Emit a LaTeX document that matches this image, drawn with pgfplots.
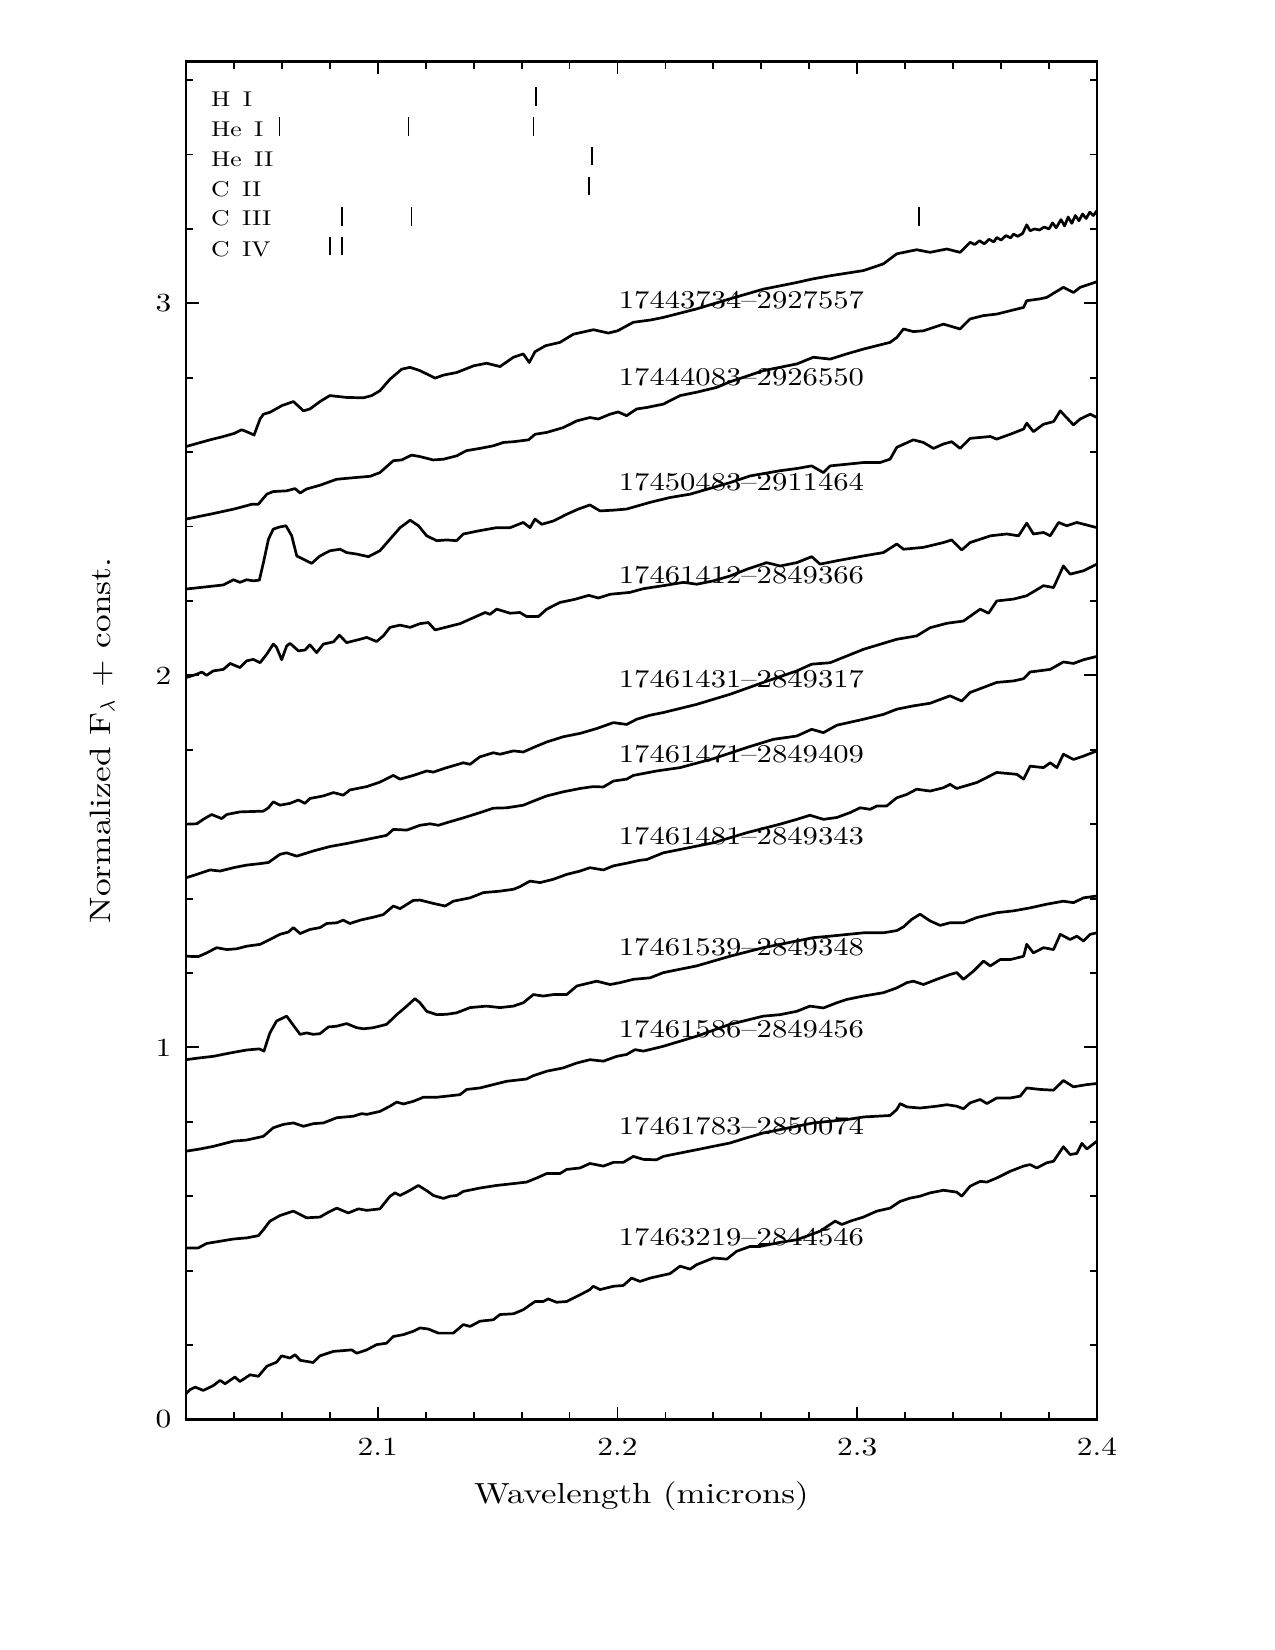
\documentclass[border=0pt]{standalone}
\usepackage{pgfplots}
\pgfplotsset{compat=1.18}
\usepackage{fontspec}
\setmainfont{lmroman10-regular.otf}[FakeStretch=1.2]
\pgfplotsset{spec/.style={black, solid, mark=none, line width=1.3pt, line join=round}}

\begin{document}
\begin{tikzpicture}
\path[use as bounding box] (0,0) rectangle (8.5in,11in);
\begin{axis}[
  at={(1.24in,1.537in)}, anchor=south west,
  scale only axis, width=6.073in, height=9.053in,
  xmin=2.02, xmax=2.4, ymin=0, ymax=3.65,
  enlargelimits=false,
  xtick={2.1,2.2,2.3,2.4}, ytick={0,1,2,3},
  minor xtick={2.04,2.06,2.08,2.12,2.14,2.16,2.18,2.22,2.24,2.26,2.28,2.32,2.34,2.36,2.38},
  minor ytick={0.2,0.4,0.6,0.8,1.2,1.4,1.6,1.8,2.2,2.4,2.6,2.8,3.2,3.4,3.6},
  major tick length=6.2pt, minor tick length=3.4pt,
  tick align=inside,
  tick style={line width=0.9pt, black},
  axis line style={line width=1.1pt},
  /pgf/number format/assume math mode=true,
  ticklabel style={font=\fontsize{12.6}{14}\selectfont},
  xticklabel style={/pgf/number format/fixed, /pgf/number format/precision=1, /pgf/number format/fixed zerofill, yshift=-5.5pt},
  yticklabel style={xshift=-3.5pt},
  xlabel={Wavelength (microns)},
  xlabel style={at={(axis description cs:0.5,-0.0616)}, anchor=base, font=\fontsize{14}{16}\selectfont},
  ylabel={Normalized F$_\lambda$ + const.},
  ylabel style={at={(axis description cs:-0.0834,0.5)}, anchor=base, font=\fontsize{14.2}{16}\selectfont},
]
% 17443734-2927557
\addplot[spec] coordinates {(2.020,2.615) (2.025,2.624) (2.030,2.633) (2.035,2.641) (2.040,2.650) (2.0432,2.660) (2.0453,2.655) (2.0484,2.646) (2.0509,2.689) (2.0523,2.702) (2.055,2.707) (2.060,2.725) (2.0648,2.736) (2.069,2.711) (2.0717,2.716) (2.0759,2.736) (2.080,2.752) (2.087,2.747) (2.094,2.746) (2.0975,2.752) (2.1009,2.765) (2.1051,2.796) (2.110,2.823) (2.1135,2.828) (2.1176,2.819) (2.1239,2.799) (2.1274,2.807) (2.1329,2.814) (2.140,2.832) (2.1454,2.839) (2.151,2.830) (2.1566,2.855) (2.1607,2.864) (2.1632,2.841) (2.1656,2.870) (2.170,2.886) (2.176,2.895) (2.1816,2.917) (2.190,2.929) (2.1962,2.920) (2.200,2.926) (2.2066,2.949) (2.2136,2.955) (2.2191,2.962) (2.2330,2.985) (2.2469,3.012) (2.2608,3.038) (2.2748,3.056) (2.281,3.065) (2.2887,3.074) (2.3026,3.088) (2.3109,3.106) (2.3165,3.133) (2.3248,3.144) (2.3304,3.137) (2.3374,3.146) (2.3429,3.137) (2.3471,3.164) (2.349,3.158) (2.351,3.168) (2.353,3.160) (2.355,3.172) (2.357,3.165) (2.3582,3.177) (2.360,3.170) (2.362,3.182) (2.364,3.176) (2.3652,3.186) (2.367,3.180) (2.369,3.188) (2.3707,3.211) (2.3721,3.195) (2.374,3.200) (2.376,3.197) (2.378,3.205) (2.380,3.200) (2.3815,3.216) (2.383,3.203) (2.385,3.225) (2.3865,3.208) (2.388,3.232) (2.3895,3.215) (2.391,3.236) (2.3925,3.222) (2.394,3.240) (2.3955,3.228) (2.397,3.245) (2.3985,3.236) (2.40,3.249)};
% 17444083-2926550
\addplot[spec] coordinates {(2.020,2.420) (2.030,2.433) (2.040,2.447) (2.0453,2.456) (2.0474,2.460) (2.0502,2.460) (2.0537,2.487) (2.0564,2.494) (2.062,2.496) (2.0655,2.502) (2.0676,2.490) (2.0703,2.501) (2.0759,2.511) (2.0828,2.527) (2.0912,2.532) (2.0968,2.535) (2.1009,2.545) (2.1065,2.577) (2.110,2.579) (2.1141,2.592) (2.1176,2.588) (2.1231,2.579) (2.1274,2.581) (2.1329,2.590) (2.137,2.604) (2.1426,2.610) (2.1482,2.617) (2.1524,2.626) (2.1566,2.628) (2.1629,2.633) (2.1656,2.648) (2.1705,2.653) (2.1774,2.666) (2.183,2.684) (2.1885,2.693) (2.192,2.689) (2.1969,2.702) (2.2003,2.708) (2.2038,2.698) (2.208,2.716) (2.2122,2.720) (2.2191,2.729) (2.2261,2.752) (2.2330,2.761) (2.2414,2.774) (2.2469,2.789) (2.2608,2.819) (2.2748,2.837) (2.2817,2.855) (2.2887,2.850) (2.2956,2.864) (2.3026,2.877) (2.3137,2.895) (2.3165,2.908) (2.3193,2.931) (2.3234,2.924) (2.3276,2.926) (2.336,2.944) (2.3429,2.931) (2.3471,2.958) (2.3527,2.967) (2.3582,2.971) (2.3694,2.989) (2.3707,3.007) (2.3763,3.012) (2.3791,3.016) (2.386,3.043) (2.3902,3.029) (2.393,3.043) (2.40,3.058)};
% 17450483-2911464
\addplot[spec] coordinates {(2.020,2.232) (2.030,2.239) (2.0356,2.243) (2.0398,2.257) (2.0425,2.250) (2.0453,2.257) (2.0481,2.254) (2.0506,2.256) (2.0523,2.303) (2.0544,2.366) (2.0564,2.393) (2.0592,2.399) (2.0617,2.402) (2.0641,2.375) (2.0662,2.321) (2.069,2.312) (2.0724,2.301) (2.0759,2.321) (2.0801,2.335) (2.0843,2.339) (2.087,2.330) (2.0912,2.326) (2.0961,2.319) (2.1009,2.335) (2.1051,2.366) (2.1093,2.397) (2.1135,2.417) (2.117,2.402) (2.1204,2.375) (2.1246,2.362) (2.1288,2.364) (2.1329,2.362) (2.1357,2.380) (2.1426,2.389) (2.1496,2.397) (2.1552,2.397) (2.1607,2.411) (2.1635,2.397) (2.1656,2.420) (2.1684,2.406) (2.1733,2.415) (2.1788,2.433) (2.1837,2.447) (2.1885,2.458) (2.1927,2.442) (2.1983,2.444) (2.2038,2.447) (2.2136,2.465) (2.2219,2.478) (2.2303,2.487) (2.2469,2.518) (2.2553,2.536) (2.2678,2.550) (2.2748,2.556) (2.281,2.563) (2.2859,2.545) (2.2887,2.563) (2.3026,2.572) (2.3095,2.572) (2.3137,2.581) (2.3165,2.613) (2.3234,2.633) (2.3276,2.626) (2.3318,2.610) (2.336,2.622) (2.3394,2.628) (2.3429,2.610) (2.3471,2.637) (2.3555,2.642) (2.3582,2.635) (2.3638,2.648) (2.3694,2.662) (2.3707,2.678) (2.3735,2.655) (2.3777,2.675) (2.3819,2.682) (2.3847,2.711) (2.3902,2.673) (2.393,2.689) (2.3972,2.702) (2.40,2.693)};
% 17461412-2849366
\addplot[spec] coordinates {(2.020,1.994) (2.0245,2.003) (2.0266,2.009) (2.0286,2.000) (2.0314,2.012) (2.0356,2.016) (2.0384,2.032) (2.0425,2.021) (2.0453,2.039) (2.0481,2.043) (2.0509,2.034) (2.0537,2.057) (2.0564,2.084) (2.0578,2.075) (2.0599,2.042) (2.062,2.079) (2.0634,2.086) (2.0669,2.066) (2.0696,2.068) (2.0717,2.082) (2.0745,2.061) (2.0773,2.084) (2.0815,2.090) (2.084,2.108) (2.087,2.088) (2.0926,2.097) (2.0954,2.102) (2.0995,2.091) (2.1023,2.106) (2.1051,2.129) (2.1093,2.135) (2.1135,2.129) (2.1176,2.139) (2.1211,2.142) (2.1239,2.122) (2.1288,2.130) (2.1343,2.139) (2.1399,2.155) (2.1448,2.169) (2.1468,2.164) (2.1496,2.178) (2.1552,2.167) (2.1593,2.169) (2.1621,2.158) (2.167,2.158) (2.1705,2.178) (2.176,2.196) (2.182,2.204) (2.188,2.215) (2.192,2.208) (2.197,2.218) (2.2052,2.223) (2.2108,2.233) (2.2191,2.241) (2.2275,2.250) (2.2330,2.245) (2.24,2.254) (2.2469,2.267) (2.2539,2.285) (2.2622,2.303) (2.2678,2.294) (2.2748,2.303) (2.281,2.319) (2.2845,2.299) (2.2915,2.308) (2.3026,2.321) (2.3109,2.330) (2.3165,2.353) (2.3193,2.339) (2.3276,2.344) (2.336,2.357) (2.3394,2.364) (2.3436,2.337) (2.3471,2.357) (2.3555,2.375) (2.3624,2.380) (2.3673,2.375) (2.3707,2.409) (2.3735,2.380) (2.3777,2.384) (2.3805,2.375) (2.384,2.411) (2.3874,2.402) (2.3916,2.411) (2.3958,2.404) (2.40,2.397)};
% 17461431-2849317
\addplot[spec] coordinates {(2.020,1.600) (2.0245,1.601) (2.0272,1.613) (2.0307,1.626) (2.0349,1.615) (2.037,1.626) (2.0425,1.633) (2.0523,1.635) (2.0544,1.644) (2.0564,1.660) (2.0592,1.651) (2.0634,1.656) (2.0669,1.665) (2.0696,1.656) (2.0717,1.669) (2.0773,1.676) (2.0815,1.685) (2.0856,1.678) (2.0884,1.692) (2.0954,1.701) (2.1009,1.713) (2.1065,1.731) (2.1093,1.721) (2.1148,1.731) (2.1204,1.743) (2.1232,1.740) (2.1288,1.752) (2.1357,1.765) (2.1385,1.761) (2.1426,1.781) (2.1482,1.792) (2.151,1.788) (2.1566,1.797) (2.1607,1.794) (2.1649,1.806) (2.1705,1.821) (2.1774,1.835) (2.1844,1.844) (2.1913,1.857) (2.1983,1.873) (2.2038,1.868) (2.208,1.882) (2.2136,1.893) (2.2191,1.900) (2.233,1.922) (2.2469,1.949) (2.2608,1.981) (2.2748,2.012) (2.281,2.030) (2.2887,2.034) (2.3026,2.070) (2.3165,2.097) (2.3248,2.106) (2.3304,2.128) (2.3374,2.140) (2.3443,2.146) (2.3513,2.178) (2.3548,2.167) (2.3582,2.200) (2.3652,2.205) (2.3707,2.214) (2.3777,2.241) (2.3819,2.236) (2.386,2.294) (2.3888,2.272) (2.3944,2.281) (2.40,2.299)};
% 17461471-2849409
\addplot[spec] coordinates {(2.020,1.456) (2.0245,1.465) (2.0300,1.477) (2.0342,1.474) (2.0398,1.483) (2.0453,1.490) (2.0509,1.494) (2.0544,1.497) (2.0592,1.519) (2.062,1.523) (2.0662,1.514) (2.0731,1.528) (2.0801,1.540) (2.087,1.548) (2.0954,1.559) (2.1037,1.570) (2.1065,1.586) (2.1121,1.584) (2.1176,1.597) (2.1218,1.601) (2.1253,1.597) (2.1288,1.604) (2.1357,1.617) (2.1426,1.631) (2.1482,1.643) (2.1538,1.644) (2.1607,1.651) (2.1649,1.662) (2.1705,1.676) (2.1774,1.687) (2.1844,1.696) (2.1899,1.701) (2.1941,1.700) (2.1983,1.716) (2.2038,1.721) (2.2066,1.731) (2.2163,1.743) (2.2261,1.752) (2.24,1.776) (2.2539,1.806) (2.265,1.828) (2.2748,1.837) (2.281,1.855) (2.2859,1.846) (2.2915,1.866) (2.3026,1.882) (2.3109,1.895) (2.3165,1.909) (2.3234,1.918) (2.3304,1.925) (2.3387,1.945) (2.3436,1.931) (2.3471,1.954) (2.3582,1.981) (2.3652,1.985) (2.3694,1.991) (2.3721,2.009) (2.3805,2.016) (2.386,2.036) (2.3902,2.032) (2.3944,2.042) (2.40,2.051)};
% 17461481-2849343
\addplot[spec] coordinates {(2.020,1.245) (2.0251,1.244) (2.0286,1.254) (2.0328,1.268) (2.037,1.263) (2.0411,1.265) (2.0453,1.272) (2.0509,1.277) (2.055,1.290) (2.0592,1.304) (2.0627,1.310) (2.0648,1.322) (2.0676,1.306) (2.0717,1.317) (2.0759,1.322) (2.0787,1.333) (2.0829,1.335) (2.0856,1.342) (2.0884,1.333) (2.0926,1.342) (2.0982,1.350) (2.1023,1.357) (2.1065,1.380) (2.1093,1.373) (2.1148,1.395) (2.1176,1.396) (2.1232,1.387) (2.1281,1.380) (2.1315,1.393) (2.1385,1.402) (2.144,1.416) (2.151,1.420) (2.1566,1.425) (2.1593,1.432) (2.1635,1.447) (2.1677,1.443) (2.1733,1.452) (2.1788,1.465) (2.1844,1.474) (2.1885,1.483) (2.1941,1.477) (2.1983,1.488) (2.2038,1.495) (2.2094,1.503) (2.2122,1.505) (2.2191,1.523) (2.2261,1.532) (2.24,1.550) (2.2539,1.577) (2.2678,1.600) (2.2748,1.613) (2.2803,1.624) (2.2859,1.613) (2.2915,1.618) (2.297,1.631) (2.3012,1.644) (2.3054,1.640) (2.3082,1.649) (2.3123,1.649) (2.3165,1.671) (2.3207,1.680) (2.3248,1.694) (2.3304,1.689) (2.336,1.698) (2.3387,1.707) (2.3415,1.696) (2.3499,1.712) (2.3582,1.739) (2.3666,1.734) (2.3694,1.721) (2.3721,1.756) (2.3777,1.752) (2.3805,1.765) (2.3833,1.752) (2.386,1.788) (2.3902,1.774) (2.3944,1.783) (2.40,1.797)};
% 17461539-2849348
\addplot[spec] coordinates {(2.020,0.967) (2.0259,0.972) (2.0314,0.976) (2.0384,0.985) (2.0453,0.993) (2.0506,0.996) (2.0525,0.990) (2.055,1.039) (2.0578,1.071) (2.062,1.084) (2.0655,1.053) (2.0676,1.035) (2.0703,1.039) (2.0731,1.035) (2.0759,1.037) (2.0794,1.055) (2.0829,1.057) (2.087,1.064) (2.0912,1.053) (2.094,1.050) (2.0982,1.053) (2.1037,1.062) (2.1079,1.088) (2.1121,1.111) (2.1155,1.131) (2.1176,1.120) (2.1204,1.097) (2.1246,1.088) (2.1288,1.089) (2.1329,1.093) (2.1385,1.107) (2.1454,1.111) (2.151,1.107) (2.1566,1.111) (2.1607,1.120) (2.1649,1.142) (2.169,1.138) (2.1733,1.142) (2.1788,1.142) (2.183,1.165) (2.1913,1.178) (2.1969,1.169) (2.201,1.174) (2.2066,1.183) (2.2136,1.187) (2.2191,1.201) (2.233,1.219) (2.2469,1.245) (2.2608,1.268) (2.2748,1.286) (2.2817,1.295) (2.2887,1.299) (2.3026,1.308) (2.3109,1.308) (2.3165,1.314) (2.3193,1.324) (2.3227,1.344) (2.3262,1.358) (2.3304,1.340) (2.3346,1.328) (2.3387,1.335) (2.3443,1.335) (2.3499,1.349) (2.3582,1.362) (2.3652,1.367) (2.3721,1.375) (2.3791,1.385) (2.386,1.393) (2.3902,1.389) (2.3944,1.402) (2.40,1.407)};
% 17461586-2849456
\addplot[spec] coordinates {(2.020,0.721) (2.0259,0.727) (2.0314,0.734) (2.0398,0.748) (2.0453,0.751) (2.0523,0.761) (2.0564,0.784) (2.0606,0.793) (2.0648,0.797) (2.069,0.788) (2.0731,0.795) (2.0773,0.797) (2.0829,0.811) (2.0898,0.815) (2.0933,0.822) (2.0954,0.820) (2.1009,0.828) (2.1051,0.842) (2.1079,0.853) (2.1107,0.848) (2.1148,0.855) (2.119,0.866) (2.1246,0.866) (2.1288,0.869) (2.1343,0.873) (2.1371,0.887) (2.1426,0.891) (2.1482,0.900) (2.1538,0.909) (2.1621,0.915) (2.1649,0.924) (2.1705,0.936) (2.1774,0.945) (2.183,0.958) (2.1885,0.967) (2.1941,0.963) (2.1997,0.976) (2.2038,0.981) (2.2073,0.994) (2.2108,0.990) (2.2191,1.003) (2.233,1.030) (2.2469,1.062) (2.2608,1.084) (2.2678,1.088) (2.2748,1.097) (2.2803,1.111) (2.2859,1.106) (2.2915,1.120) (2.2957,1.129) (2.3026,1.138) (2.3109,1.147) (2.3165,1.160) (2.3207,1.174) (2.3234,1.178) (2.3276,1.169) (2.3332,1.183) (2.3387,1.196) (2.3415,1.201) (2.3443,1.183) (2.3485,1.205) (2.3527,1.232) (2.3555,1.219) (2.3596,1.236) (2.3638,1.236) (2.3694,1.245) (2.3707,1.277) (2.3735,1.254) (2.3777,1.268) (2.3819,1.263) (2.3847,1.304) (2.3888,1.290) (2.3916,1.299) (2.3944,1.286) (2.3972,1.304) (2.40,1.308)};
% 17461783-2850074
\addplot[spec] coordinates {(2.020,0.461) (2.0251,0.461) (2.0286,0.473) (2.0342,0.479) (2.0398,0.485) (2.0453,0.488) (2.0502,0.494) (2.0523,0.510) (2.055,0.533) (2.0592,0.548) (2.0648,0.560) (2.0703,0.542) (2.0759,0.544) (2.0794,0.557) (2.0829,0.568) (2.0877,0.555) (2.0919,0.566) (2.0954,0.562) (2.1009,0.566) (2.1051,0.600) (2.1072,0.609) (2.1093,0.602) (2.1135,0.616) (2.1169,0.629) (2.1204,0.615) (2.1232,0.602) (2.1274,0.594) (2.1301,0.600) (2.1329,0.602) (2.1357,0.613) (2.1426,0.622) (2.1496,0.629) (2.1566,0.634) (2.1621,0.638) (2.1663,0.649) (2.1705,0.661) (2.176,0.661) (2.1788,0.672) (2.1844,0.676) (2.1885,0.688) (2.1941,0.681) (2.1983,0.691) (2.2024,0.691) (2.2066,0.707) (2.2108,0.699) (2.2163,0.698) (2.2191,0.707) (2.233,0.725) (2.2469,0.743) (2.2539,0.757) (2.2608,0.770) (2.2678,0.779) (2.2817,0.797) (2.2957,0.806) (2.3026,0.813) (2.3137,0.817) (2.3165,0.833) (2.3179,0.849) (2.3207,0.840) (2.3262,0.837) (2.3332,0.842) (2.3374,0.846) (2.3415,0.842) (2.3443,0.835) (2.3471,0.851) (2.3513,0.860) (2.3541,0.849) (2.3582,0.864) (2.3638,0.864) (2.368,0.869) (2.3707,0.891) (2.3763,0.887) (2.3819,0.885) (2.386,0.911) (2.3902,0.894) (2.3958,0.900) (2.40,0.903)};
% 17463219-2844546
\addplot[spec] coordinates {(2.020,0.069) (2.0217,0.080) (2.0238,0.087) (2.0272,0.078) (2.0314,0.091) (2.0342,0.105) (2.0363,0.096) (2.0404,0.114) (2.0425,0.102) (2.0467,0.120) (2.0502,0.116) (2.0537,0.143) (2.0578,0.154) (2.0599,0.171) (2.0634,0.165) (2.0655,0.174) (2.0676,0.159) (2.0731,0.153) (2.0759,0.171) (2.0815,0.183) (2.0856,0.185) (2.0891,0.187) (2.0912,0.178) (2.0954,0.187) (2.0995,0.201) (2.1037,0.205) (2.1065,0.223) (2.1107,0.228) (2.1148,0.237) (2.1176,0.246) (2.1211,0.243) (2.1253,0.232) (2.1315,0.232) (2.1357,0.255) (2.1385,0.250) (2.1426,0.264) (2.1482,0.268) (2.151,0.282) (2.1566,0.284) (2.1607,0.295) (2.1656,0.317) (2.169,0.317) (2.1711,0.324) (2.1746,0.315) (2.1788,0.317) (2.1844,0.335) (2.1885,0.349) (2.1899,0.358) (2.1927,0.349) (2.1983,0.358) (2.2024,0.360) (2.2059,0.380) (2.2094,0.371) (2.2136,0.380) (2.2219,0.392) (2.2261,0.412) (2.2303,0.404) (2.233,0.416) (2.24,0.434) (2.2456,0.431) (2.2497,0.452) (2.2553,0.465) (2.2594,0.465) (2.2678,0.476) (2.2748,0.483) (2.2845,0.506) (2.2887,0.524) (2.2908,0.533) (2.2936,0.524) (2.2971,0.533) (2.3026,0.544) (2.3082,0.560) (2.3137,0.568) (2.3179,0.586) (2.3221,0.595) (2.3262,0.600) (2.3304,0.609) (2.336,0.616) (2.3415,0.611) (2.3436,0.600) (2.3471,0.627) (2.3513,0.640) (2.3541,0.638) (2.3582,0.649) (2.3638,0.667) (2.3694,0.681) (2.3721,0.685) (2.3749,0.676) (2.3791,0.690) (2.3819,0.694) (2.386,0.733) (2.3888,0.712) (2.3916,0.715) (2.3937,0.742) (2.3958,0.727) (2.40,0.748)};

% line identification marks
\addplot[black, line width=0.7pt] coordinates {(2.1660,3.531) (2.1660,3.581)};
\addplot[black, line width=0.7pt] coordinates {(2.0589,3.451) (2.0589,3.501)};
\addplot[black, line width=0.7pt] coordinates {(2.1129,3.451) (2.1129,3.501)};
\addplot[black, line width=0.7pt] coordinates {(2.1649,3.451) (2.1649,3.501)};
\addplot[black, line width=0.7pt] coordinates {(2.1893,3.371) (2.1893,3.421)};
\addplot[black, line width=0.7pt] coordinates {(2.1882,3.290) (2.1882,3.340)};
\addplot[black, line width=0.7pt] coordinates {(2.0851,3.209) (2.0851,3.259)};
\addplot[black, line width=0.7pt] coordinates {(2.1140,3.209) (2.1140,3.259)};
\addplot[black, line width=0.7pt] coordinates {(2.3257,3.209) (2.3257,3.259)};
\addplot[black, line width=0.7pt] coordinates {(2.0800,3.129) (2.0800,3.179)};
\addplot[black, line width=0.7pt] coordinates {(2.0851,3.129) (2.0851,3.179)};

\begin{scope}[every node/.style={anchor=base west, inner sep=0pt, font=\fontsize{10.3}{12}\selectfont}]
\node at (axis cs:2.0303,3.530) {H\hspace{6pt}I};
\node at (axis cs:2.0303,3.449) {He\hspace{6pt}I};
\node at (axis cs:2.0303,3.369) {He\hspace{6pt}II};
\node at (axis cs:2.0303,3.288) {C\hspace{6pt}II};
\node at (axis cs:2.0303,3.208) {C\hspace{6pt}III};
\node at (axis cs:2.0303,3.127) {C\hspace{6pt}IV};
\end{scope}

\begin{scope}[every node/.style={anchor=base west, inner sep=0pt, font=\fontsize{12.3}{14}\selectfont}]
\node at (axis cs:2.2004,2.987) {17443734--2927557};
\node at (axis cs:2.2004,2.778) {17444083--2926550};
\node at (axis cs:2.2004,2.498) {17450483--2911464};
\node at (axis cs:2.2004,2.247) {17461412--2849366};
\node at (axis cs:2.2004,1.967) {17461431--2849317};
\node at (axis cs:2.2004,1.767) {17461471--2849409};
\node at (axis cs:2.2004,1.546) {17461481--2849343};
\node at (axis cs:2.2004,1.247) {17461539--2849348};
\node at (axis cs:2.2004,1.027) {17461586--2849456};
\node at (axis cs:2.2004,0.766) {17461783--2850074};
\node at (axis cs:2.2004,0.467) {17463219--2844546};
\end{scope}
\end{axis}
\end{tikzpicture}
\end{document}
